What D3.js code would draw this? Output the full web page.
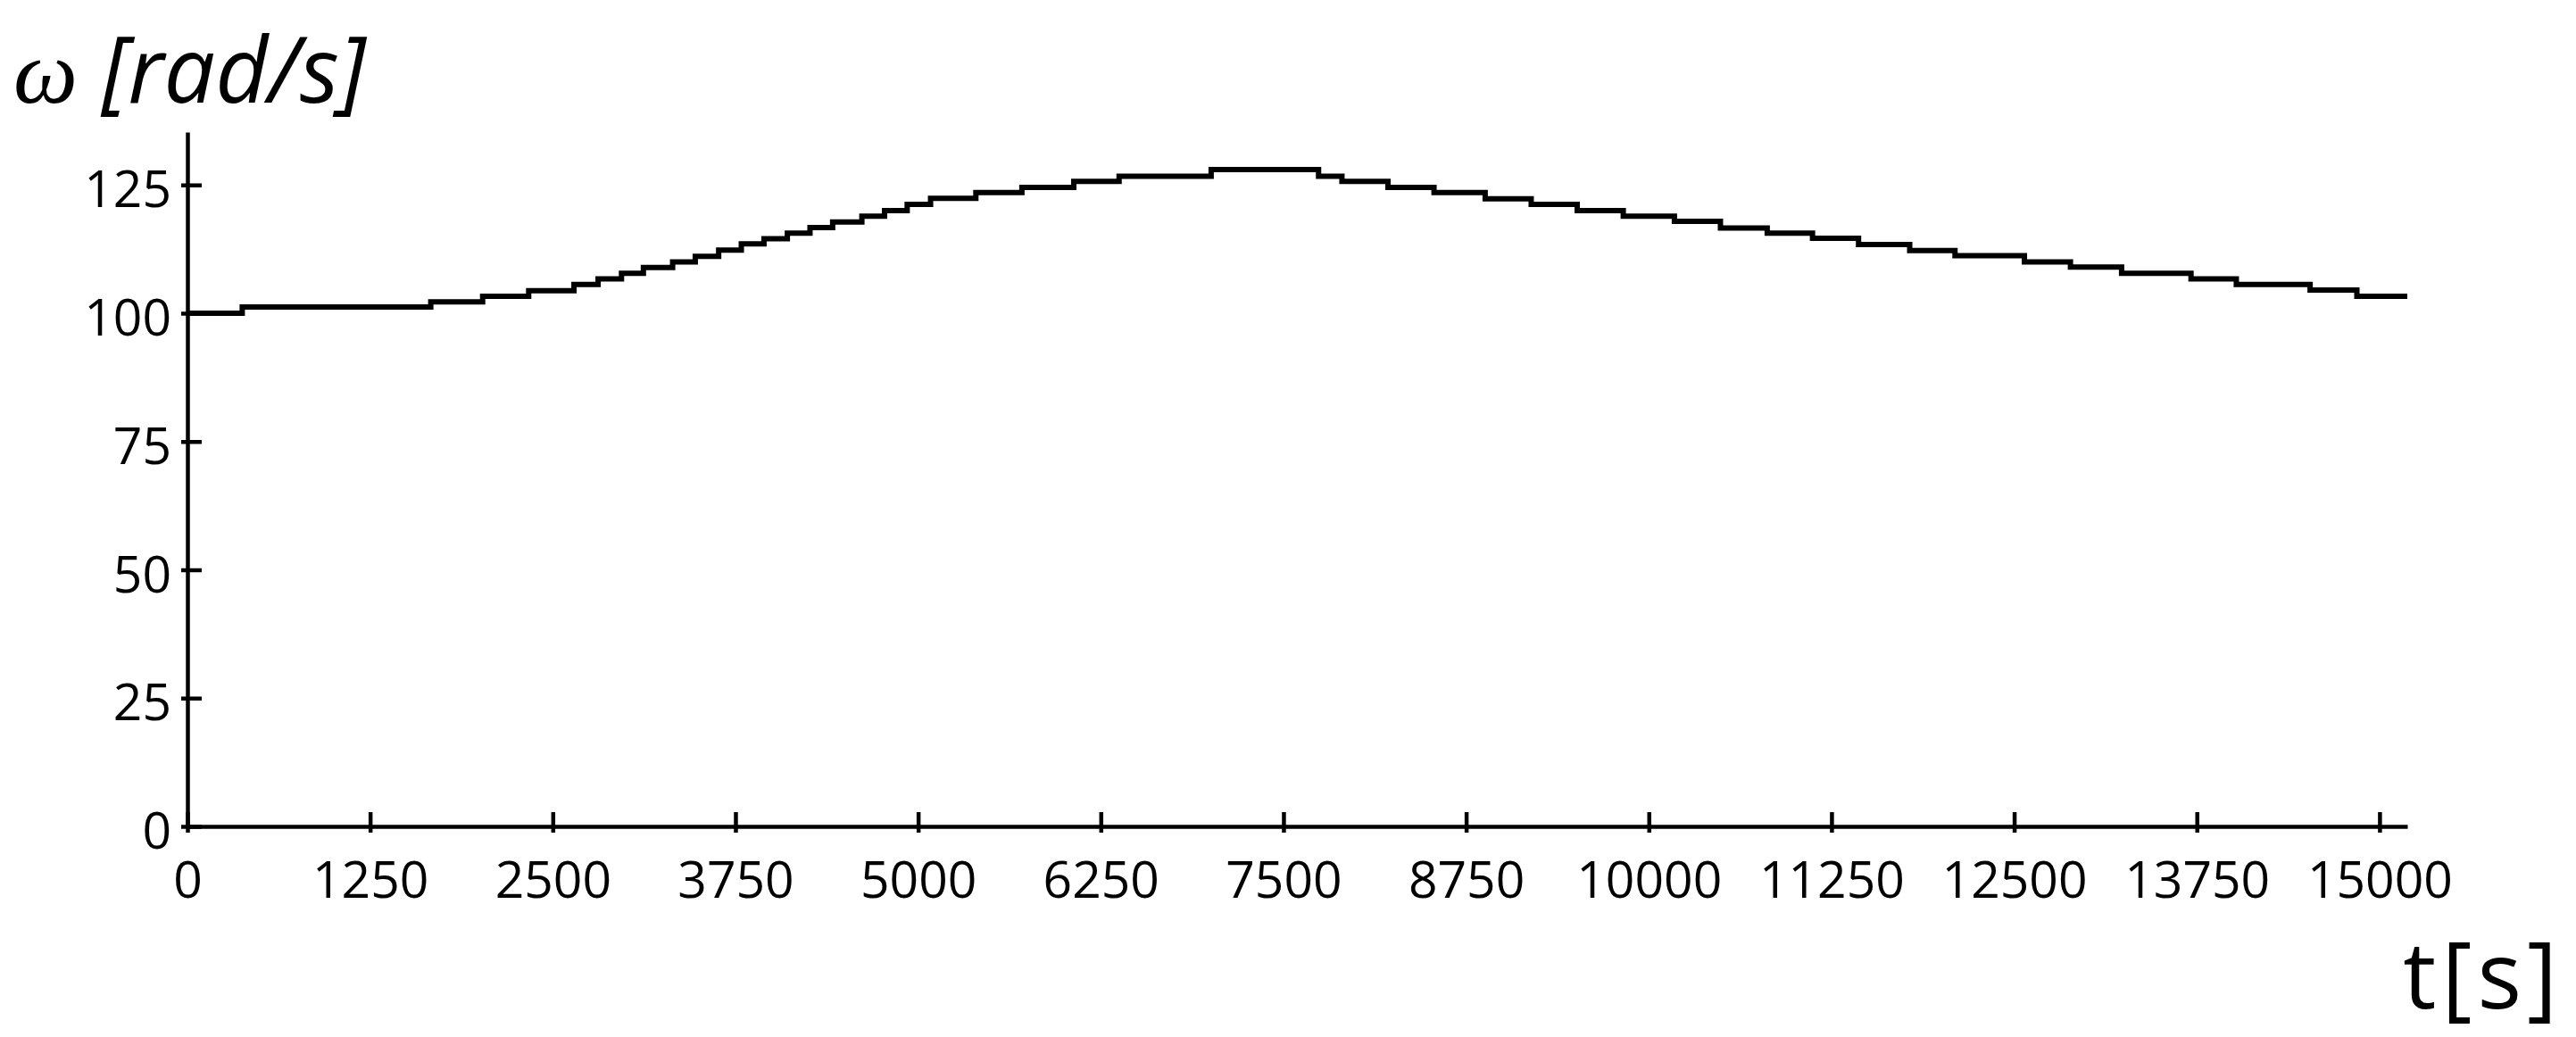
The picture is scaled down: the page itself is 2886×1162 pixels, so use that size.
<!DOCTYPE html>
<html>
<head>
<meta charset="utf-8">
<script src="https://cdn.jsdelivr.net/npm/d3@7"></script>
<style>
  html, body { margin: 0; padding: 0; background: #fff; }
  svg { display: block; }
  .axis text { font-family: 'Open Sans', sans-serif; font-size: 57px; fill: #000; }
  .axis path, .axis line { stroke: #000; stroke-width: 4.5px; }
</style>
</head>
<body>
<script>
// step start times [s] and angular speed on each step [rad/s]
const stepTimes = [0, 375, 1665, 2020, 2335, 2645, 2810, 2970, 3120, 3320, 3475, 3635, 3790, 3945, 4105,
  4260, 4415, 4615, 4770, 4925, 5085, 5395, 5710, 6065, 6375, 7005, 7740, 7900, 8215, 8530, 8880,
  9195, 9510, 9825, 10175, 10490, 10810, 11120, 11435, 11785, 12095, 12570, 12885, 13235, 13710,
  14020, 14525, 14845, 15190];
const omegaValues = [100, 101.2, 102.2, 103.3, 104.4, 105.6, 106.7, 107.8, 108.9, 110.0, 111.1, 112.3,
  113.5, 114.5, 115.6, 116.7, 117.8, 118.9, 120.0, 121.2, 122.4, 123.5, 124.5, 125.7, 126.7, 128.0,
  126.7, 125.7, 124.5, 123.5, 122.3, 121.2, 120.0, 118.9, 117.9, 116.6, 115.6, 114.6, 113.4, 112.2,
  111.2, 110.0, 109.0, 107.8, 106.7, 105.6, 104.5, 103.3, 103.3];

const xTicks = [0, 1250, 2500, 3750, 5000, 6250, 7500, 8750, 10000, 11250, 12500, 13750, 15000];
const yTicks = [0, 25, 50, 75, 100, 125];

const width = 2886;
const height = 1162;
const margin = { top: 148, right: 189, bottom: 236, left: 210 };

const svg = d3.select('body')
  .append('svg')
  .attr('width', width)
  .attr('height', height);

const xScale = d3.scaleLinear()
  .domain([0, 15190])
  .range([margin.left, width - margin.right]);
const yScale = d3.scaleLinear()
  .domain([0, 135.3])
  .range([height - margin.bottom, margin.top]);

// x axis, ticks cross the line (mostly inward)
svg.append('g')
  .attr('class', 'axis x-axis')
  .attr('transform', `translate(0, ${height - margin.bottom})`)
  .call(d3.axisBottom(xScale).tickValues(xTicks).tickSizeInner(-16).tickSizeOuter(0).tickFormat(d3.format('d')))
  .call(g => g.selectAll('.tick line').attr('y1', 7))
  .call(g => g.selectAll('.tick text').attr('y', 80).attr('dy', 0));

// y axis
svg.append('g')
  .attr('class', 'axis y-axis')
  .attr('transform', `translate(${margin.left}, 0)`)
  .call(d3.axisLeft(yScale).tickValues(yTicks).tickSizeInner(-16).tickSizeOuter(0).tickPadding(18))
  .call(g => g.selectAll('.tick line').attr('x1', -7))
  .call(g => g.selectAll('.tick text').attr('dy', '0.43em'));

// stepped speed curve
const line = d3.line()
  .x((d, i) => xScale(stepTimes[i]))
  .y(d => yScale(d))
  .curve(d3.curveStepAfter);

svg.append('path')
  .datum(omegaValues)
  .attr('d', line)
  .style('fill', 'none')
  .style('stroke', '#000')
  .style('stroke-width', '6px');

// y label
const yLabel = svg.append('text')
  .attr('x', 15)
  .attr('y', 115)
  .style('font-size', '102px')
  .style('font-style', 'italic')
  .style('fill', '#000');
yLabel.append('tspan')
  .style('font-family', "'Liberation Serif', serif")
  .text('ω');
yLabel.append('tspan')
  .style('font-family', "'Open Sans', sans-serif")
  .text(' [rad/s]');

// x label
svg.append('text')
  .attr('x', 2871)
  .attr('y', 1130)
  .attr('text-anchor', 'end')
  .style('font-family', "'Open Sans', sans-serif")
  .style('font-size', '104px')
  .style('letter-spacing', '6px')
  .style('fill', '#000')
  .text('t[s]');
</script>
</body>
</html>
